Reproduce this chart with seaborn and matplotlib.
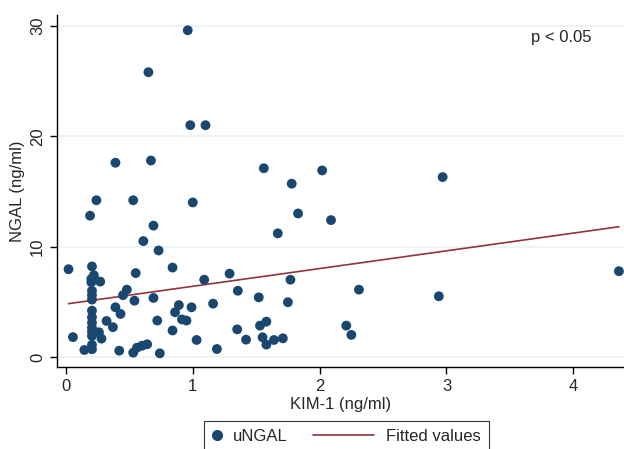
import numpy as np
import pandas as pd
import matplotlib
matplotlib.use("Agg")
import matplotlib.pyplot as plt
from matplotlib.lines import Line2D
from matplotlib.legend_handler import HandlerLine2D
import seaborn as sns

# KIM-1 (ng/ml) vs uNGAL (ng/ml)
kim1 = [0.96, 0.65, 0.98, 1.10, 0.39, 0.67, 1.56, 2.02, 2.97, 1.78,
        0.24, 0.53, 1.00, 0.19, 1.83, 2.09, 0.69, 1.67, 0.61, 0.73,
        0.02, 0.205, 0.22, 0.20, 0.20, 0.27, 0.205, 0.205, 0.205, 0.205,
        0.205, 0.205, 0.205, 0.205, 0.26, 0.28, 0.205, 0.205, 0.145, 0.055,
        0.32, 0.37, 0.39, 0.43, 0.45, 0.48, 0.55, 0.54, 0.42, 0.53,
        0.56, 0.60, 0.64, 0.74, 0.69, 0.72, 0.84, 0.84, 0.89, 0.86,
        0.915, 0.95, 0.99, 1.03, 1.09, 1.29, 1.77, 1.355, 1.16, 1.52,
        1.75, 1.35, 1.19, 1.42, 1.53, 1.58, 1.55, 1.58, 1.64, 1.71,
        2.21, 2.25, 2.31, 2.94, 4.36, 0.205]
ngal = [29.6, 25.8, 21.0, 21.0, 17.6, 17.8, 17.1, 16.9, 16.3, 15.7,
        14.2, 14.2, 14.0, 12.8, 13.0, 12.4, 11.9, 11.2, 10.5, 9.65,
        7.95, 8.2, 7.4, 7.07, 6.77, 6.83, 6.0, 5.6, 5.2, 4.2,
        3.1, 2.65, 2.3, 1.9, 2.24, 1.66, 1.1, 0.7, 0.63, 1.8,
        3.26, 2.7, 4.5, 3.9, 5.6, 6.1, 7.6, 5.1, 0.57, 0.39,
        0.84, 1.02, 1.15, 0.33, 5.35, 3.3, 8.1, 2.4, 4.7, 4.05,
        3.4, 3.3, 4.5, 1.54, 7.0, 7.55, 7.0, 6.0, 4.83, 5.4,
        4.96, 2.5, 0.72, 1.57, 2.84, 3.2, 1.78, 1.12, 1.54, 1.69,
        2.84, 2.0, 6.1, 5.5, 7.77, 3.6]

# fitted values line as drawn in the reference (ends of the fit)
fit_x = [0.02, 4.36]
fit_y = [4.83, 11.8]

xticks = [0, 1, 2, 3, 4]
yticks = [0, 10, 20, 30]

df = pd.DataFrame({"KIM-1": kim1, "uNGAL": ngal})
fit = pd.DataFrame({"KIM-1": fit_x, "fitted": fit_y})

navy = "#1a476f"
maroon = "#90353b"


class ShortHandler(HandlerLine2D):
    """marker handle that takes less room than the line handle"""
    def legend_artist(self, legend, orig_handle, fontsize, handlebox):
        handlebox.width = 0.55 * fontsize
        return super().legend_artist(legend, orig_handle, fontsize, handlebox)


sns.set_style("white")
plt.rcParams["font.family"] = ["Liberation Sans", "DejaVu Sans"]

fig = plt.figure(figsize=(6.24, 4.49), dpi=100)
ax = fig.add_axes([0.0913, 0.1826, 0.9087, 0.7844])

sns.scatterplot(data=df, x="KIM-1", y="uNGAL", ax=ax, color=navy, s=50,
                edgecolor="none", zorder=3, legend=False)
sns.lineplot(data=fit, x="KIM-1", y="fitted", ax=ax, color=maroon, lw=1.2,
             zorder=2, legend=False)

ax.set_xlim(-0.071, 4.40)
ax.set_ylim(-0.91, 31.0)
ax.set_xticks(xticks)
ax.set_yticks(yticks)
ax.set_yticklabels([str(t) for t in yticks], rotation=90, va="center")
ax.yaxis.grid(True, color="#eaf2f3", lw=1.2)
ax.xaxis.grid(False)
ax.set_axisbelow(True)
ax.tick_params(axis="both", length=5, width=1, color="black", labelsize=12,
               direction="out", left=True, bottom=True)
for side in ["top", "right"]:
    ax.spines[side].set_visible(False)
for side in ["left", "bottom"]:
    ax.spines[side].set_color("black")
    ax.spines[side].set_linewidth(1)

ax.set_xlabel("KIM-1 (ng/ml)", fontsize=12, labelpad=2)
ax.set_ylabel("NGAL (ng/ml)", fontsize=12)
ax.text(0.889, 0.935, "p < 0.05", transform=ax.transAxes, fontsize=12,
        ha="center", va="center")

h_pts = Line2D([], [], marker="o", color=navy, linestyle="none", markersize=7)
h_fit = Line2D([], [], color=maroon, lw=1.2)
leg = fig.legend([h_pts, h_fit], ["uNGAL", "Fitted values"],
                 handler_map={h_pts: ShortHandler(numpoints=1)},
                 loc="upper center", ncol=2, bbox_to_anchor=(0.555, 0.0624),
                 frameon=True, fontsize=12, fancybox=False, edgecolor="black",
                 handlelength=3.7, handletextpad=0.7, columnspacing=1.5,
                 borderpad=0.5, borderaxespad=0)
leg.get_frame().set_linewidth(0.8)

fig.savefig("out.png", dpi=100)
